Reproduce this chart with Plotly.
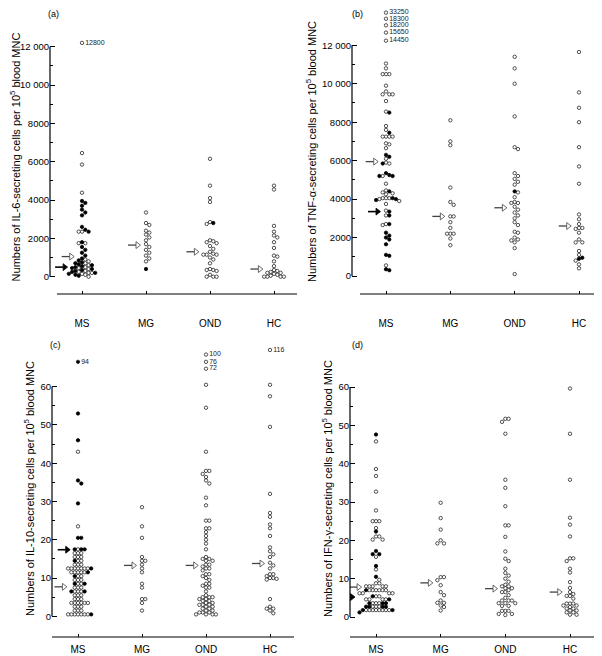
import plotly.graph_objects as go

# page body adds an 8px margin; figure is sized to fill the rest of the window
PAGE_PAD = 8
W, H = 602 - PAGE_PAD, 656 - PAGE_PAD
CATEGORIES = ["MS", "MG", "OND", "HC"]

# ---------------- (a) IL-6 ----------------
IL6_OPEN_MS = [6450, 5850, 4380, 2350, 2350, 1750, 1750, 900, 800, 700, 600, 500, 450, 400,
               300, 250, 200, 200, 150, 100, 0]
IL6_FILLED_MS = [3950, 3850, 3700, 3500, 3350, 3200, 2600, 2450, 2350, 1800, 1550, 1400, 1250,
                 1100, 950, 850, 750, 700, 650, 600, 550, 500, 450, 400, 350, 300, 250, 200,
                 150, 100, 50]
IL6_OPEN_MG = [3350, 2800, 2700, 2400, 2300, 2200, 2050, 1900, 1700, 1550, 1400, 1250, 1100,
               950, 800]
IL6_FILLED_MG = [400]
IL6_OPEN_OND = [6150, 4750, 4100, 3900, 2850, 2750, 1900, 1850, 1800, 1750, 1600, 1450, 1300,
                1200, 1150, 1150, 1150, 1000, 900, 700, 400, 350, 350, 300, 100, 0, 0, 0]
IL6_FILLED_OND = [2800]
IL6_OPEN_HC = [4750, 4550, 2650, 2350, 2150, 2050, 1800, 1500, 1100, 1050, 800, 550, 350, 300,
               250, 200, 200, 150, 100, 50, 0, 0, 0, 0]
IL6_FILLED_HC = []
IL6_OUTLIER_MS = [12200]
IL6_OUTLIER_MS_TEXT = ["12800"]
IL6_MEDIAN_OPEN = [1050, 1650, 1300, 400]
IL6_MEDIAN_FILLED_MS = [500]

# ---------------- (b) TNF-alpha ----------------
TNF_OPEN_MS = [11050, 10800, 10500, 10500, 10500, 9900, 9600, 9450, 9450, 9450, 9100, 8550,
               7800, 7600, 7250, 7250, 7250, 7250, 6900, 6850, 6650, 6100, 5900, 5850, 5200,
               4800, 4450, 4350, 4300, 4250, 4050, 4050, 4050, 4000, 3900, 3750, 3400, 3150,
               2700, 2650, 550]
TNF_FILLED_MS = [8500, 7450, 6300, 6200, 5850, 5350, 5250, 5200, 5200, 4400, 4050, 4000, 3950,
                 3350, 3150, 2700, 2250, 2100, 2000, 1900, 1650, 1100, 1050, 350, 300]
TNF_OPEN_MG = [8100, 7000, 6800, 4600, 3850, 3700, 3100, 3100, 2800, 2500, 2200, 2200, 2200,
               1950, 1600]
TNF_FILLED_MG = []
TNF_OPEN_OND = [11400, 10800, 10000, 8300, 6700, 6600, 5350, 5200, 5050, 4900, 4750, 4350,
                4100, 3850, 3800, 3800, 3600, 3450, 3300, 3150, 3000, 2800, 2650, 2300, 2250,
                2000, 1900, 1850, 1750, 1450, 100]
TNF_FILLED_OND = [4400]
TNF_OPEN_HC = [11650, 9550, 8750, 8000, 6700, 5700, 4800, 3200, 2950, 2700, 2500, 2500, 2450,
               2250, 1900, 1750, 1750, 1300, 1100, 800, 600, 400]
TNF_FILLED_HC = [950, 900]
TNF_OUTLIER_MS = [13700, 13380, 13040, 12660, 12240]
TNF_OUTLIER_MS_TEXT = ["33250", "18300", "18200", "15650", "14450"]
TNF_MEDIAN_OPEN = [5950, 3100, 3550, 2600]
TNF_MEDIAN_FILLED_MS = [3350]

# ---------------- (c) IL-10 ----------------
IL10_OPEN_MS = [43, 23.5, 17.5, 16.5, 16.5, 16.5, 15.5, 15.5, 15.5, 14.5, 14.5, 13.5, 13.5,
                13.5, 12.5, 12.5, 12.5, 12.5, 12.5, 12.5, 12.5, 11.5, 11.5, 11.5, 11.5, 11.5,
                10.5, 10.5, 9.5, 9.5, 9.5, 8.5, 8.5, 7.5, 7.5, 7.5, 6.5, 6.5, 6.5, 5.5, 5.5,
                5.5, 4.5, 4.5, 4.5, 3.5, 3.5, 3.5, 3.5, 3.5, 3.5, 2.5, 2.5, 2.5, 1.5, 1.5, 1.5,
                0.5, 0.5, 0.5, 0.5, 0.5, 0.5, 0.5]
IL10_FILLED_MS = [53, 46, 35.5, 34.7, 29.5, 20.5, 20.5, 17.5, 17.5, 17.5, 14.5, 12.5, 11.5,
                  10.5, 8.5, 8.5, 6.5, 6.5, 0.5]
IL10_OPEN_MG = [28.5, 23.5, 20.5, 15.5, 14.5, 14.5, 13.5, 12.5, 11.5, 8.5, 7.5, 4.5, 4.5, 3.5,
                1.5]
IL10_FILLED_MG = []
IL10_OPEN_OND = [60.5, 54.5, 43, 38, 38, 37.2, 36.4, 35.5, 34.7, 31, 29, 25, 25, 23, 23, 22,
                 21, 20, 19, 17.5, 15.5, 15, 15, 14.5, 14.5, 13.5, 13.5, 13, 12.5, 12.5, 12, 11,
                 11, 10.5, 10, 9.5, 8.5, 8.5, 8, 7.5, 7.5, 6.5, 5.5, 5, 5, 5, 4.5, 4.5, 4, 4,
                 3.5, 3.5, 3, 3, 3, 2.5, 2.5, 2, 2, 1.5, 1.5, 1, 1, 1, 0.5, 0.5, 0.5, 0.5]
IL10_FILLED_OND = []
IL10_OPEN_HC = [60.5, 57.5, 49.5, 32, 27, 26, 24, 23, 21, 18, 17, 16.2, 15.5, 14, 13.3, 12.5,
                11, 11, 10.5, 10, 10, 9.8, 9.6, 4.5, 2.5, 2, 2, 1.5, 0.8]
IL10_FILLED_HC = []
IL10_OUTLIER_MS = [66.5]
IL10_OUTLIER_MS_TEXT = ["94"]
IL10_OUTLIER_OND = [68.4, 66.5, 64.7]
IL10_OUTLIER_OND_TEXT = ["100", "76", "72"]
IL10_OUTLIER_HC = [69.6]
IL10_OUTLIER_HC_TEXT = ["116"]
IL10_MEDIAN_OPEN = [7.7, 13.3, 13.3, 13.8]
IL10_MEDIAN_FILLED_MS = [17.4]

# ---------------- (d) IFN-gamma ----------------
IFN_OPEN_MS = [45.8, 38.6, 36.8, 32.7, 27.8, 25, 25, 25, 23.2, 21, 21, 20.2, 20.2, 15.7, 12.4,
               9.7, 8.8, 8.8, 8, 8, 8, 8, 8, 7, 7, 7, 7, 7, 7, 6.2, 6.2, 6.2, 6.2, 5.4, 5.4,
               4.6, 4.6, 4.6, 4.6, 3.6, 3.6, 3.6, 2.7, 2.7, 2.7, 1.8, 1.8, 1.8, 1.8, 1.8, 1.8,
               1.8, 1.8]
IFN_FILLED_MS = [47.6, 22.3, 17.2, 16.4, 16.4, 13.3, 10.5, 7, 5.4, 4.6, 3.6, 3.6, 3.6, 2.7, 2.7,
                 2.7, 2.7, 1.8, 1.8, 1.2]
IFN_OPEN_MG = [29.8, 25.8, 22.8, 20, 19.2, 19.2, 10.4, 10.4, 9.6, 8.3, 6.5, 5.7, 4.3, 3.7, 3.7,
               3.0, 2.6, 1.7]
IFN_FILLED_MG = []
IFN_OPEN_OND = [51.7, 51.7, 50.9, 47.8, 35.8, 33.7, 28.9, 23.9, 23.9, 20.9, 17.1, 15.2, 14.6,
                12.6, 11.5, 10.8, 10, 9.2, 8.4, 8, 8, 7.5, 7.5, 7, 6.5, 6.5, 5.7, 5, 4.3, 4.3,
                4.3, 3.6, 3.6, 3.6, 2.9, 2.9, 1.6, 1.6, 1.6, 0.8, 0.8, 0.5]
IFN_FILLED_OND = []
IFN_OPEN_HC = [59.6, 47.8, 35.8, 25.9, 24.1, 21, 15.3, 15.3, 14.6, 12.6, 11.6, 9.1, 7.6, 6.5,
               6, 5.5, 5.5, 4.8, 3.5, 3.5, 3.5, 3, 3, 2.6, 2.2, 2.2, 1.7, 1.7, 1.2, 1.2, 0.6,
               0.6]
IFN_FILLED_HC = []
IFN_MEDIAN_OPEN = [7.8, 8.9, 7.4, 6.5]
IFN_MEDIAN_FILLED_MS = [5.2]

# ---------------- axis ticks ----------------
BIG_TICKS = [0, 2000, 4000, 6000, 8000, 10000, 12000]
BIG_TICKTEXT = ["0", "2000", "4000", "6000", "8000", "10 000", "12 000"]
BIG_MINOR = [1000, 3000, 5000, 7000, 9000, 11000]
SMALL_TICKS = [0, 10, 20, 30, 40, 50, 60]
SMALL_TICKTEXT = ["0", "10", "20", "30", "40", "50", "60"]
SMALL_MINOR = [5, 15, 25, 35, 45, 55]

FONT = "Liberation Sans, Arial, Helvetica, sans-serif"

# geometry below is given in window pixels
PANELS = [
    dict(label="(a)", opens=[IL6_OPEN_MS, IL6_OPEN_MG, IL6_OPEN_OND, IL6_OPEN_HC],
         filleds=[IL6_FILLED_MS, IL6_FILLED_MG, IL6_FILLED_OND, IL6_FILLED_HC],
         outliers=[(0, IL6_OUTLIER_MS, IL6_OUTLIER_MS_TEXT, False)],
         med_open=IL6_MEDIAN_OPEN, med_filled=IL6_MEDIAN_FILLED_MS,
         ticks=BIG_TICKS, ticktext=BIG_TICKTEXT, minor=BIG_MINOR, top=12000,
         title="Numbers of IL-6-secreting cells per 10<sup>5</sup> blood MNC",
         g=dict(left=50, right=297, top=20, bottom=294, xline=57, cat0=82, cat3=274,
                y0px=276.7, y1px=46.7, lx=53, ly=14, standoff=22)),
    dict(label="(b)", opens=[TNF_OPEN_MS, TNF_OPEN_MG, TNF_OPEN_OND, TNF_OPEN_HC],
         filleds=[TNF_FILLED_MS, TNF_FILLED_MG, TNF_FILLED_OND, TNF_FILLED_HC],
         outliers=[(0, TNF_OUTLIER_MS, TNF_OUTLIER_MS_TEXT, False)],
         med_open=TNF_MEDIAN_OPEN, med_filled=TNF_MEDIAN_FILLED_MS,
         ticks=BIG_TICKS, ticktext=BIG_TICKTEXT, minor=BIG_MINOR, top=12000,
         title="Numbers of TNF-\u03b1-secreting cells per 10<sup>5</sup> blood MNC",
         g=dict(left=352, right=601, top=9, bottom=294, xline=360, cat0=386, cat3=579,
                y0px=276, y1px=45.3, lx=357, ly=14, standoff=22)),
    dict(label="(c)", opens=[IL10_OPEN_MS, IL10_OPEN_MG, IL10_OPEN_OND, IL10_OPEN_HC],
         filleds=[IL10_FILLED_MS, IL10_FILLED_MG, IL10_FILLED_OND, IL10_FILLED_HC],
         outliers=[(0, IL10_OUTLIER_MS, IL10_OUTLIER_MS_TEXT, True),
                   (2, IL10_OUTLIER_OND, IL10_OUTLIER_OND_TEXT, False),
                   (3, IL10_OUTLIER_HC, IL10_OUTLIER_HC_TEXT, False)],
         med_open=IL10_MEDIAN_OPEN, med_filled=IL10_MEDIAN_FILLED_MS,
         ticks=SMALL_TICKS, ticktext=SMALL_TICKTEXT, minor=SMALL_MINOR, top=60,
         title="Numbers of IL-10-secreting cells per 10<sup>5</sup> blood MNC",
         g=dict(left=52, right=294, top=340, bottom=637, xline=52, cat0=78, cat3=270,
                y0px=616.3, y1px=386.7, lx=55, ly=345, standoff=5)),
    dict(label="(d)", opens=[IFN_OPEN_MS, IFN_OPEN_MG, IFN_OPEN_OND, IFN_OPEN_HC],
         filleds=[IFN_FILLED_MS, IFN_FILLED_MG, IFN_FILLED_OND, IFN_FILLED_HC],
         outliers=[],
         med_open=IFN_MEDIAN_OPEN, med_filled=IFN_MEDIAN_FILLED_MS,
         ticks=SMALL_TICKS, ticktext=SMALL_TICKTEXT, minor=SMALL_MINOR, top=60,
         title="Numbers of IFN-\u03b3-secreting cells per 10<sup>5</sup> blood MNC",
         g=dict(left=350, right=594, top=340, bottom=637, xline=350, cat0=376, cat3=570,
                y0px=617, y1px=387, lx=357, ly=345, standoff=5)),
]

STEP = 3.3      # horizontal spacing between swarm columns (px)
VTHR = 3.1      # min vertical gap within one column (px)
MSIZE = 3.4


def swarm(vals, ys):
    """Return horizontal pixel offsets for a dot-plot column."""
    order = sorted(range(len(vals)), key=lambda i: -vals[i][0])
    cols = {}
    out = [0.0] * len(vals)
    cand = [0]
    for n in range(1, 40):
        cand += [n, -n]
    for i in order:
        y = vals[i][0] * ys
        for c in cand:
            if all(abs(y - yy) >= VTHR for yy in cols.get(c, [])):
                break
        cols.setdefault(c, []).append(y)
        out[i] = c * STEP
    return out


fig = go.Figure()
layout = dict(width=W, height=H, margin=dict(l=0, r=0, t=0, b=0),
              paper_bgcolor="white", plot_bgcolor="rgba(0,0,0,0)",
              showlegend=False, font=dict(family=FONT, color="black"),
              shapes=[], annotations=[])

for pi, P in enumerate(PANELS):
    g = {k: (v - PAGE_PAD if k not in ("standoff",) else v) for k, v in P["g"].items()}
    sfx = "" if pi == 0 else str(pi + 1)
    xa, ya = "x" + sfx, "y" + sfx
    xs = (g["cat3"] - g["cat0"]) / 3.0
    ys = (g["y0px"] - g["y1px"]) / P["top"]
    xr = [(g["left"] - g["cat0"]) / xs, (g["right"] - g["cat0"]) / xs]
    yr = [(g["y0px"] - g["bottom"]) / ys, (g["y0px"] - g["top"]) / ys]

    ox, oy, fx, fy = [], [], [], []
    group_pts = []
    for gi in range(4):
        pts = [(v, False) for v in P["opens"][gi]] + [(v, True) for v in P["filleds"][gi]]
        offs = swarm(pts, ys)
        group_pts.append([(p[0] * ys, o) for p, o in zip(pts, offs)])
        for (v, filled), o in zip(pts, offs):
            if filled:
                fx.append(gi + o / xs); fy.append(v)
            else:
                ox.append(gi + o / xs); oy.append(v)

    fig.add_trace(go.Scatter(x=ox, y=oy, mode="markers", xaxis=xa, yaxis=ya,
                             marker=dict(size=MSIZE, color="white",
                                         line=dict(color="#1a1a1a", width=0.75)),
                             hoverinfo="skip", cliponaxis=False))
    fig.add_trace(go.Scatter(x=fx, y=fy, mode="markers", xaxis=xa, yaxis=ya,
                             marker=dict(size=MSIZE, color="black",
                                         line=dict(color="black", width=0.75)),
                             hoverinfo="skip", cliponaxis=False))

    for gi, vals, texts, filled in P["outliers"]:
        fig.add_trace(go.Scatter(x=[gi] * len(vals), y=vals, mode="markers+text",
                                 text=texts, textposition="middle right",
                                 textfont=dict(size=7, family=FONT, color="#222"),
                                 xaxis=xa, yaxis=ya, hoverinfo="skip", cliponaxis=False,
                                 marker=dict(size=MSIZE, color="black" if filled else "white",
                                             line=dict(color="#1a1a1a", width=0.75))))

    # median arrows
    arrows = [(gi, v, False) for gi, v in enumerate(P["med_open"])] + \
             [(0, v, True) for v in P["med_filled"]]
    for gi, v, filled in arrows:
        vpx = v * ys
        near = [o for (ypx, o) in group_pts[gi] if abs(ypx - vpx) < 5]
        left = min(near) if near else 0
        tip = min(left - 5, -6)
        head_c = tip - 2.5
        col = "black" if filled else "#444"
        fig.add_trace(go.Scatter(x=[gi + (tip - 12) / xs, gi + (tip - 4) / xs], y=[v, v],
                                 mode="lines", xaxis=xa, yaxis=ya, hoverinfo="skip",
                                 line=dict(color=col, width=1.6 if filled else 1.3)))
        fig.add_trace(go.Scatter(x=[gi + head_c / xs], y=[v], mode="markers", xaxis=xa,
                                 yaxis=ya, hoverinfo="skip",
                                 marker=dict(symbol="triangle-right", size=6,
                                             color="black" if filled else "white",
                                             line=dict(color=col, width=0.8))))

    layout["xaxis" + sfx] = dict(
        domain=[g["left"] / W, g["right"] / W], range=xr, anchor=ya,
        showgrid=False, zeroline=False, showline=False,
        tickmode="array", tickvals=[0, 1, 2, 3], ticktext=CATEGORIES,
        ticks="inside", ticklen=3, tickwidth=1, tickcolor="black",
        tickfont=dict(size=10, family=FONT, color="black"),
        ticklabelstandoff=g["standoff"], fixedrange=True)
    layout["yaxis" + sfx] = dict(
        domain=[1 - g["bottom"] / H, 1 - g["top"] / H], range=yr, anchor=xa,
        showgrid=False, zeroline=False, showline=False,
        tickmode="array", tickvals=P["ticks"], ticktext=P["ticktext"],
        ticks="inside", ticklen=5, tickwidth=1, tickcolor="black",
        minor=dict(tickvals=P["minor"], ticks="inside", ticklen=2.5, tickwidth=1,
                   tickcolor="black", showgrid=False),
        tickfont=dict(size=9.5, family=FONT, color="black"),
        title=dict(text=P["title"], font=dict(size=11, family=FONT, color="black"),
                   standoff=3),
        fixedrange=True)

    # axis lines
    layout["shapes"].append(dict(type="line", xref=xa + " domain", yref=ya,
                                 x0=0, x1=0, y0=0, y1=P["top"],
                                 line=dict(color="black", width=1.2)))
    layout["shapes"].append(dict(type="line", xref=xa + " domain", yref=ya + " domain",
                                 x0=(g["xline"] - g["left"]) / (g["right"] - g["left"]), x1=1,
                                 y0=0, y1=0, line=dict(color="black", width=1.2)))
    layout["annotations"].append(dict(text=P["label"], x=g["lx"] / W, y=1 - g["ly"] / H,
                                      xref="paper", yref="paper", showarrow=False,
                                      xanchor="center", yanchor="middle",
                                      font=dict(size=9, family=FONT, color="black")))

fig.update_layout(**layout)
fig.write_html("out.html")
